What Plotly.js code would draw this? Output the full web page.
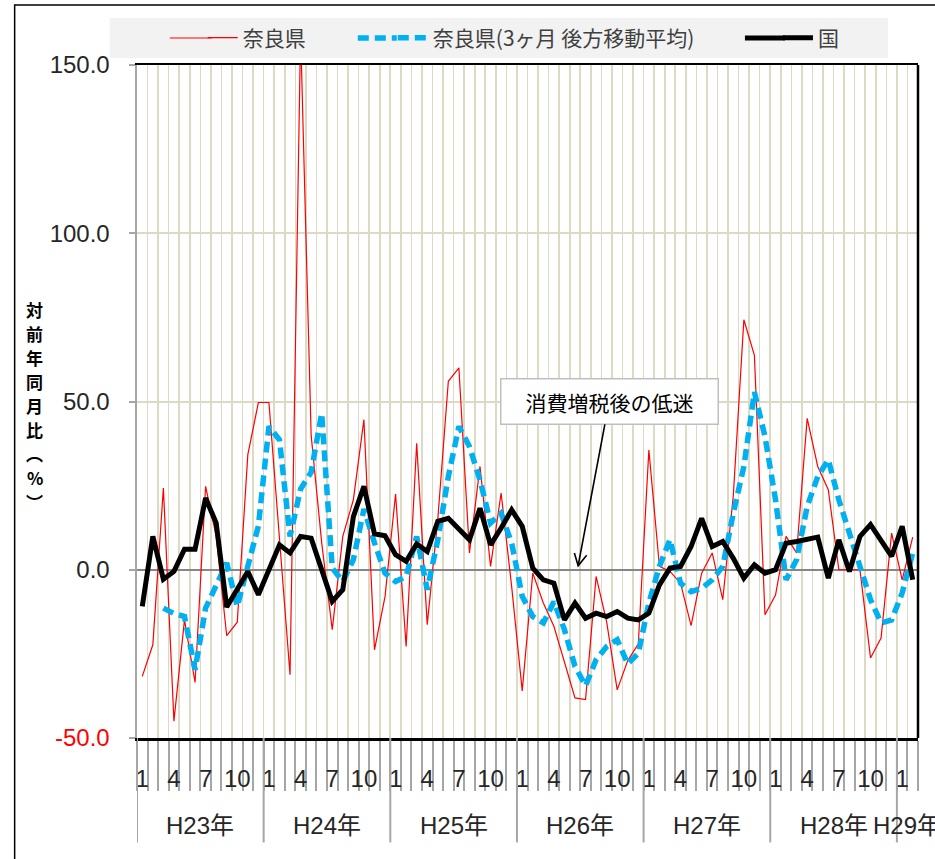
<!DOCTYPE html>
<html>
<head>
<meta charset="utf-8">
<script src="https://cdn.plot.ly/plotly-3.0.1.min.js"></script>
<style>
  body { margin: 0; background: #fff; }
  #chart { width: 935px; height: 859px; }
</style>
</head>
<body>
<div id="chart"></div>
<script>
// 年・月のラベル
const years = ['H23年', 'H24年', 'H25年', 'H26年', 'H27年', 'H28年', 'H29年'];
const monthsPerYear = [12, 12, 12, 12, 12, 12, 2];
const monthLabels = [];
monthsPerYear.forEach(n => { for (let m = 1; m <= n; m++) monthLabels.push(String(m)); });

// 奈良県（対前年同月比）
const nara = [
  -31.7, -22.3, 24.3, -45.0, -14.9, -33.5, 24.8, 10.0, -19.6, -15.6, 34.2, 49.7,
  49.7, 10.0, -31.2, 160.0, 40.0, 8.0, -17.8, 9.9, 20.8, 44.6, -23.8, -8.0,
  22.5, -22.8, 37.6, -16.3, 15.0, 56.0, 60.0, 5.0, 30.7, 1.0, 22.8, -5.0,
  -36.0, -1.0, -9.9, -16.8, -27.7, -38.1, -38.6, -2.0, -15.5, -35.7, -27.0, -22.0,
  35.6, 1.0, -0.5, -4.0, -16.6, -1.0, 5.0, -8.9, 22.0, 74.3, 63.7, -13.4,
  -7.5, 9.9, 5.0, 45.0, 30.7, 23.8, 0.0, 0.0, 0.0, -26.2, -20.3, 10.9,
  -3.0, 9.7
];

// 奈良県（3ヶ月 後方移動平均）
const naraMA = [
  null, null, -11.4, -13.0, -13.9, -29.7, -11.4, -5.0, 2.0, -10.9, 1.0, 13.0,
  42.6, 38.6, 9.9, 24.0, 29.0, 46.5, 0.5, -3.5, 3.0, 18.0, 8.0, -1.0,
  -3.5, -2.0, 9.9, -5.9, 8.9, 27.7, 42.6, 36.6, 26.7, 13.9, 16.8, 7.9,
  -7.9, -13.9, -15.8, -9.5, -17.8, -28.7, -34.5, -26.7, -22.8, -20.8, -28.0, -24.8,
  -9.9, 1.0, 9.0, -4.0, -6.5, -5.5, -3.0, 1.0, 16.8, 30.7, 52.8, 39.6,
  20.8, -3.0, 3.0, 18.8, 27.7, 32.7, 20.8, 10.9, 1.0, -8.9, -15.8, -14.9,
  -6.9, 5.0
];

// 国
const kuni = [
  -10.9, 9.9, -2.8, -0.5, 6.1, 6.1, 21.3, 13.9, -11.1, -5.7, -0.5, -7.4,
  0.0, 7.4, 5.0, 9.9, 9.4, 0.0, -9.4, -5.9, 15.8, 24.8, 10.7, 10.1,
  4.5, 2.5, 7.7, 5.4, 14.4, 15.3, 11.9, 8.9, 18.3, 7.4, 12.4, 17.8,
  12.9, 0.5, -3.0, -4.0, -14.9, -9.9, -14.4, -12.9, -13.9, -12.4, -14.4, -14.9,
  -12.9, -4.5, 0.5, 1.0, 6.9, 15.3, 6.9, 8.4, 3.4, -2.5, 1.5, -1.0,
  0.0, 7.9, 8.4, 8.9, 9.7, -2.5, 8.9, -0.5, 9.9, 13.4, 8.6, 4.0,
  12.9, -3.0
];

const yTickVals = [-50, 0, 50, 100, 150];
const yTickText = ['<span style="color:#ff0000">-50.0</span>', '0.0', '50.0', '100.0', '150.0'];
const yTitleChars = ['対', '前', '年', '同', '月', '比', '︵', '%', '︶'];

const n = monthLabels.length;
const xIdx = monthLabels.map((_, i) => i);

// 月ラベルは 1,4,7,10 のみ表示
const labelVals = [], labelText = [];
monthLabels.forEach((m, i) => {
  if (['1', '4', '7', '10'].includes(m)) { labelVals.push(i); labelText.push(m); }
});
const boundaries = [];
for (let i = 0; i <= n; i++) boundaries.push(i - 0.5);

const plotB = 738.5, plotT = 65, plotL = 137.3, plotR = 918;
const pw = plotR - plotL, ph = plotB - plotT;
const px = v => (v - plotL) / pw;      // 画素 → paper 座標
const py = v => (plotB - v) / ph;

const jp = 'Noto Sans CJK JP, sans-serif';
const num = 'Liberation Sans, Noto Sans CJK JP, sans-serif';

const traces = [
  { x: xIdx, y: nara, name: '奈良県', mode: 'lines', type: 'scatter',
    line: { color: '#ff0000', width: 1.2 }, legend: 'legend' },
  { x: xIdx, y: naraMA, name: '奈良県(3ヶ月 後方移動平均)', mode: 'lines', type: 'scatter',
    line: { color: '#00b0f0', width: 5.5, dash: '11px,6px' }, legend: 'legend2' },
  { x: xIdx, y: kuni, name: '国', mode: 'lines', type: 'scatter',
    line: { color: '#000000', width: 5 }, legend: 'legend3' }
];

// 年の区切り線と年ラベル
const shapes = [];
const annotations = [];
let start = 0;
monthsPerYear.forEach((cnt, k) => {
  shapes.push({ type: 'line', xref: 'x', yref: 'paper', x0: start - 0.5, x1: start - 0.5,
    y0: 0, y1: py(843), line: { color: '#a6a6a6', width: 2 } });
  annotations.push({ xref: 'x', yref: 'paper', x: start + (cnt - 1) / 2, y: py(826),
    xanchor: 'center', yanchor: 'middle', text: years[k], showarrow: false,
    font: { family: num, size: 24, color: '#262626' } });
  start += cnt;
});

// 凡例の背景
shapes.push({ type: 'rect', xref: 'paper', yref: 'paper', x0: px(110), x1: px(888), y0: py(58), y1: py(18),
  fillcolor: '#f2f2f2', line: { width: 0 }, layer: 'below' });
// 凡例の線見本を長くする
shapes.push({ type: 'line', xref: 'paper', yref: 'paper', x0: px(170), x1: px(212), y0: py(38), y1: py(38),
  line: { color: '#ff0000', width: 1.2 } });
shapes.push({ type: 'line', xref: 'paper', yref: 'paper', x0: px(358), x1: px(397), y0: py(38), y1: py(38),
  line: { color: '#00b0f0', width: 5.5, dash: '11px,6px' } });
shapes.push({ type: 'line', xref: 'paper', yref: 'paper', x0: px(745), x1: px(785), y0: py(38), y1: py(38),
  line: { color: '#000', width: 5 } });
// 右枠
shapes.push({ type: 'line', xref: 'paper', yref: 'paper', x0: 1, x1: 1, y0: 0, y1: 1,
  line: { color: '#000', width: 2.5 } });
// グラフ外枠（左上）
shapes.push({ type: 'rect', xref: 'paper', yref: 'paper', x0: px(15), x1: px(960), y0: py(880), y1: py(5),
  line: { color: '#000', width: 1.5 }, fillcolor: 'rgba(0,0,0,0)' });

// 縦書きの軸タイトル（1文字ずつ）
yTitleChars.forEach((c, k) => {
  annotations.push({ xref: 'paper', yref: 'paper', x: px(35), y: py(310 + k * 24),
    xanchor: 'center', yanchor: 'middle',
    showarrow: false, text: c, font: { family: jp, size: 17, color: '#000', weight: 'bold' } });
});

// 消費増税後の低迷（矢印の線は注釈、先端の V はピクセル指定の図形）
const arrowAt = { x: 41.3, y: 1.2 };
annotations.push({ x: arrowAt.x, y: arrowAt.y, xref: 'x', yref: 'y', text: '消費増税後の低迷',
  showarrow: true, arrowhead: 0, arrowwidth: 1.6, arrowcolor: '#000',
  ax: 31, ay: -164, bgcolor: '#fff', bordercolor: '#bfbfbf', borderwidth: 1.5,
  width: 214, height: 42, font: { family: jp, size: 21, color: '#000' } });
shapes.push({ type: 'path', xref: 'x', yref: 'y', xsizemode: 'pixel', ysizemode: 'pixel',
  xanchor: arrowAt.x, yanchor: arrowAt.y, path: 'M8.5,10.5 L0,0 L-3.8,12.8',
  line: { color: '#000', width: 1.6 } });

const legendBase = { orientation: 'h', yanchor: 'middle', xanchor: 'left', y: py(38),
  bgcolor: 'rgba(0,0,0,0)', font: { family: jp, size: 21, color: '#404040' } };

const layout = {
  width: 935, height: 859,
  margin: { l: plotL, r: 935 - plotR, t: plotT, b: 859 - plotB },
  paper_bgcolor: '#fff', plot_bgcolor: '#fff',
  showlegend: true,
  legend: Object.assign({}, legendBase, { x: px(203) }),
  legend2: Object.assign({}, legendBase, { x: px(393) }),
  legend3: Object.assign({}, legendBase, { x: px(778) }),
  xaxis: {
    range: [-0.5, n - 0.5], showgrid: false, zeroline: false,
    tickvals: labelVals, ticktext: labelText, ticks: '',
    ticklabelstandoff: 18,
    tickfont: { family: num, size: 24, color: '#262626' },
    showline: true, linecolor: '#000', linewidth: 2.5, mirror: true,
    minor: { tickvals: boundaries, ticks: 'outside', ticklen: 50, tickcolor: '#a6a6a6', tickwidth: 2,
      showgrid: true, gridcolor: '#ddd9c3', gridwidth: 1.6 }
  },
  yaxis: {
    range: [-50, 150], tickvals: yTickVals, ticktext: yTickText,
    ticks: 'outside', ticklen: 6, tickcolor: '#a6a6a6', tickwidth: 2,
    ticklabelstandoff: 14,
    tickfont: { family: num, size: 24, color: '#262626' },
    showgrid: true, gridcolor: '#ddd9c3', gridwidth: 2,
    zeroline: true, zerolinecolor: '#868686', zerolinewidth: 2.5,
    showline: true, linecolor: '#a6a6a6', linewidth: 2.5
  },
  shapes: shapes,
  annotations: annotations
};

Plotly.newPlot('chart', traces, layout, { displayModeBar: false, staticPlot: true });
</script>
</body>
</html>
